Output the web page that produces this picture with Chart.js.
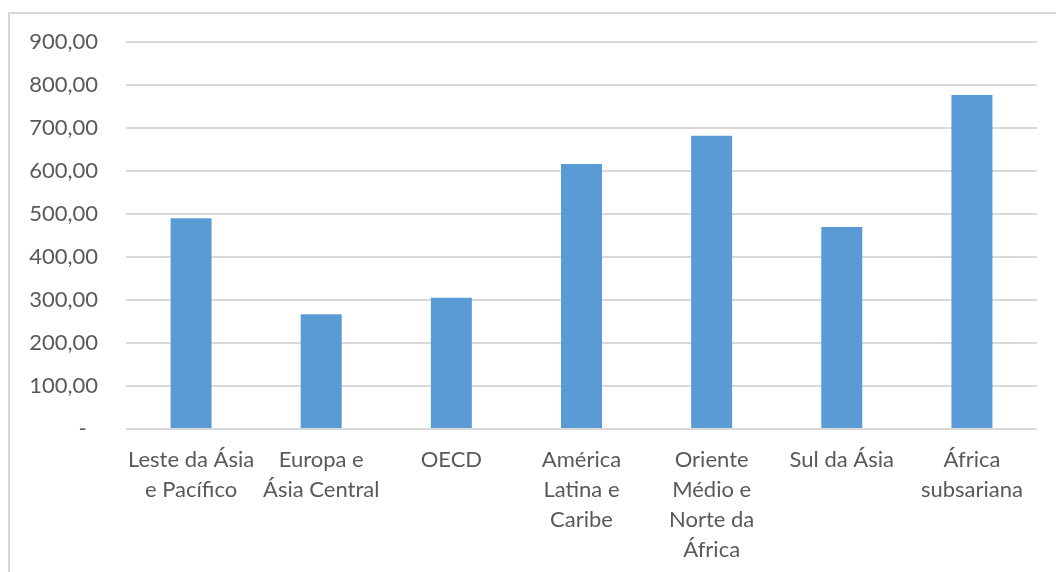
<!DOCTYPE html>
<html lang="pt-BR">
<head>
<meta charset="utf-8">
<script src="https://cdn.jsdelivr.net/npm/chart.js@4/dist/chart.umd.min.js"></script>
<style>
    html, body { margin: 0; padding: 0; background: #fff; }
    #frame {
        position: absolute;
        left: 8px;
        top: 12px;
        width: 1048px;
        height: 560px;
        border-left: 2px solid #d9d9d9;
        border-top: 2px solid #d9d9d9;
    }
    #wrap { position: absolute; left: 0; top: 0; width: 1056px; height: 572px; }
</style>
</head>
<body>
<div id="frame"></div>
<div id="wrap"><canvas id="chart-regioes"></canvas></div>
<script>
const regioes = [
    ['Leste da Ásia', 'e Pacífico'],
    ['Europa e', 'Ásia Central'],
    'OECD',
    ['América', 'Latina e', 'Caribe'],
    ['Oriente', 'Médio e', 'Norte da', 'África'],
    'Sul da Ásia',
    ['África', 'subsariana']
];
const valores = [490, 267, 305, 616, 682, 470, 777];

const corBarra = '#5b9bd5';
const corTexto = '#595959';
const corGrade = '#d9d9d9';
const fonte = 'Lato, "Open Sans", sans-serif';

function formatarValor(v) {
    if (v === 0) return '-  ';
    return v.toLocaleString('pt-BR', { minimumFractionDigits: 2, maximumFractionDigits: 2 });
}

function loadGraph() {
    const config = {
        type: 'bar',
        data: {
            labels: regioes,
            datasets: [{
                data: valores,
                backgroundColor: corBarra,
                borderWidth: 0,
                categoryPercentage: 1,
                barPercentage: 0.315
            }]
        },
        options: {
            responsive: false,
            animation: false,
            layout: {
                padding: { top: 42, right: 19, bottom: 0, left: 0 }
            },
            scales: {
                x: {
                    grid: { display: false, drawTicks: false },
                    border: { display: false },
                    ticks: {
                        color: corTexto,
                        padding: 16,
                        maxRotation: 0,
                        autoSkip: false,
                        font: { family: fonte, size: 22, lineHeight: 1.36 }
                    },
                    afterFit: (scale) => { scale.height = 143; }
                },
                y: {
                    min: 0,
                    max: 900,
                    grid: { color: corGrade, lineWidth: 2, drawTicks: false },
                    border: { display: false },
                    ticks: {
                        stepSize: 100,
                        color: corTexto,
                        padding: 28,
                        font: { family: fonte, size: 22 },
                        callback: (v) => formatarValor(v)
                    },
                    afterFit: (scale) => { scale.width = 126; }
                }
            },
            plugins: {
                legend: { display: false },
                title: { display: false },
                tooltip: { enabled: false }
            }
        }
    };

    const canvas = document.getElementById('chart-regioes');
    canvas.width = 1056;
    canvas.height = 572;
    new Chart(canvas.getContext('2d'), config);
}

document.addEventListener('DOMContentLoaded', loadGraph);
</script>
</body>
</html>
